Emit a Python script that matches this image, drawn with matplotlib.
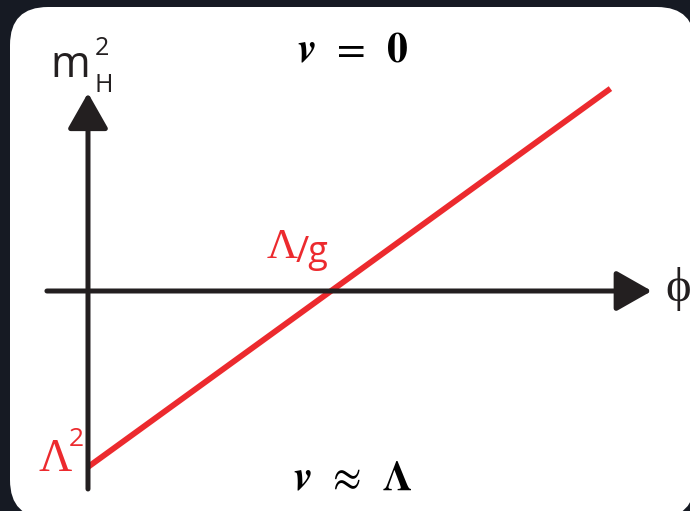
import matplotlib
matplotlib.use("Agg")
import matplotlib.pyplot as plt
from matplotlib.patches import FancyBboxPatch

# line in units of Lambda/g (phi) and Lambda^2 (m_H^2)
phi = [0.0, 2.15]
m2 = [-1.0, 1.15]

# axis extents
x_axis = [-0.169, 2.32]
y_axis = [-1.125, 1.125]

red = '#ec2a2e'
ink = '#231f20'
sans = 'Open Sans'
serif = 'Liberation Serif'

fig = plt.figure(figsize=(6.9, 5.11), dpi=100)
fig.patch.set_facecolor('#161a23')

# white rounded card (pixel units)
bg = fig.add_axes([0, 0, 1, 1])
bg.set_xlim(0, 690)
bg.set_ylim(511, 0)
bg.axis('off')
card = FancyBboxPatch((10, 7), 685, 511, boxstyle='round,pad=0,rounding_size=38',
                      facecolor='white', edgecolor='none')
bg.add_patch(card)

ax = fig.add_axes([0, 0, 1, 1])
ax.set_xlim(-0.3621, 2.4774)
ax.set_ylim(-1.25, 1.6534)
ax.axis('off')
ax.patch.set_alpha(0)

arrow = dict(arrowstyle='-|>,head_length=2.2,head_width=1.25', lw=3.6,
             color=ink, mutation_scale=10, shrinkA=0, shrinkB=0)
ax.annotate('', xy=(x_axis[1], 0), xytext=(x_axis[0], 0), arrowprops=arrow)
ax.annotate('', xy=(0, y_axis[1]), xytext=(0, y_axis[0]), arrowprops=arrow)

ax.plot(phi, m2, color=red, lw=4.2, solid_capstyle='butt')

# m_H^2 label
ax.text(0.01, 1.28, 'm', fontsize=31, family=sans, ha='right', va='center', color=ink)
ax.text(0.028, 1.38, '2', fontsize=18, family=sans, ha='left', va='center', color=ink)
ax.text(0.025, 1.17, 'H', fontsize=18, family=sans, ha='left', va='center', color=ink)

ax.text(1.09, 1.37, r'$\mathbfit{v}\ \,=\ \,\mathbf{0}$', fontsize=30, math_fontfamily='stix',
        ha='center', va='center', color='black')
ax.text(1.09, -1.06, r'$\mathbfit{v}\ \,\approx\ \,\mathbf{\Lambda}$', fontsize=30,
        math_fontfamily='stix', ha='center', va='center', color='black')

# Lambda/g
ax.text(0.865, 0.245, 'Λ', fontsize=31, family=serif, ha='right', va='center', color=red)
ax.text(0.855, 0.215, '/g', fontsize=26, family=sans, ha='left', va='center', color=red)
# Lambda^2
ax.text(-0.068, -0.96, 'Λ', fontsize=33, family=serif, ha='right', va='center', color=red)
ax.text(-0.078, -0.845, '2', fontsize=19, family=sans, ha='left', va='center', color=red)

ax.text(2.43, 0.01, 'ϕ', fontsize=35, family=serif, ha='center', va='center', color=ink)

fig.savefig('out.png', dpi=100, facecolor=fig.get_facecolor())
